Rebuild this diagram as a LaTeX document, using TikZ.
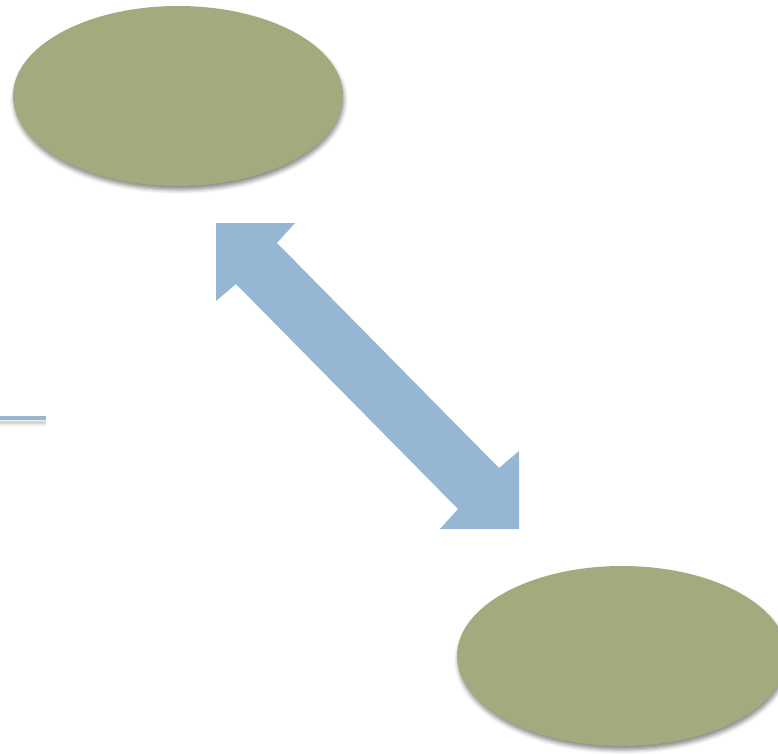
\documentclass[tikz,border=0pt]{standalone}
\usetikzlibrary{calc,shapes.geometric,shadows.blur}
\definecolor{ovalgreen}{RGB}{163,170,126}
\definecolor{arrowblue}{RGB}{149,183,212}

\begin{document}
\begin{tikzpicture}[x=1pt, y=-1pt,
        oval/.style={ellipse, fill=ovalgreen, minimum width=330pt, minimum height=180pt,
            blur shadow={shadow xshift=1pt, shadow yshift=-4pt, shadow opacity=45, shadow blur radius=4pt}},
        fatarrow/.style={fill=arrowblue},
        stub/.style={draw=arrowblue, line width=4pt,
            blur shadow={shadow xshift=0pt, shadow yshift=-5pt, shadow opacity=40, shadow blur radius=4pt}}
    ]
        \useasboundingbox (0,0) rectangle (778,753);

        \node[oval] (upper) at (178,96) {};
        \node[oval] (lower) at (622,656) {};

        % double arrow between the ovals
        \coordinate (tipA) at (216,223);
        \coordinate (tipB) at (519,529);
        \fill[fatarrow] (tipA) -- ($(tipA)+(79,0)$) -- ($(tipA)+(61,20)$)
            -- ($(tipB)+(-20,-61)$) -- ($(tipB)+(0,-78)$) -- (tipB)
            -- ($(tipB)+(-79,0)$) -- ($(tipB)+(-61,-20)$)
            -- ($(tipA)+(20,61)$) -- ($(tipA)+(0,78)$) -- cycle;

        % stub at the left edge
        \coordinate (stubL) at (-2,417.5);
        \coordinate (stubR) at (46,417.5);
        \draw[stub] (stubL) -- (stubR);
    \end{tikzpicture}
\end{document}
